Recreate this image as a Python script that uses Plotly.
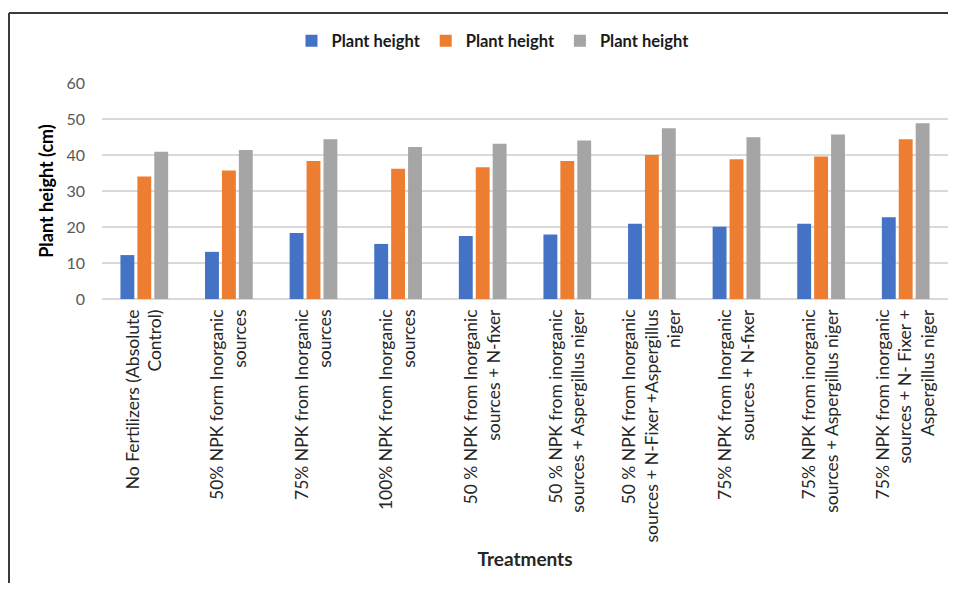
import plotly.graph_objects as go

categories = [
    "No Fertilizers (Absolute<br>Control)",
    "50% NPK form Inorganic<br>sources",
    "75% NPK from Inorganic<br>sources",
    "100% NPK from Inorganic<br>sources",
    "50 % NPK from Inorganic<br>sources + N-fixer",
    "50 % NPK from inorganic<br>sources + Aspergillus niger",
    "50 % NPK from Inorganic<br>sources + N-Fixer +Aspergillus<br>niger",
    "75% NPK from Inorganic<br>sources + N-fixer",
    "75% NPK from inorganic<br>sources + Aspergillus niger",
    "75% NPK from inorganic<br>sources + N- Fixer +<br>Aspergillus niger",
]
series_names = ["Plant height", "Plant height", "Plant height"]
series1 = [12.2, 13.1, 18.3, 15.3, 17.5, 17.9, 20.9, 20.1, 20.9, 22.7]
series2 = [34.0, 35.7, 38.3, 36.2, 36.6, 38.3, 40.0, 38.8, 39.6, 44.4]
series3 = [40.9, 41.4, 44.4, 42.2, 43.1, 44.0, 47.4, 44.9, 45.7, 48.8]
colors = ["#4472C4", "#ED7D31", "#A5A5A5"]
y_ticks = [0, 10, 20, 30, 40, 50, 60]

OFF = 8  # page body margin
W, H = 948, 591 - 2 * OFF
ML, MT = 102 - OFF, 83 - OFF
MR = 8
MB = H - (299 - OFF)
pw = W - ML - MR
ph = H - MT - MB

def px_x(p):  # reference-image pixel -> paper
    return (p - OFF - ML) / pw

def px_y(p):
    return (H - MB - (p - OFF)) / ph

fig = go.Figure()
for name, vals, col in zip(series_names, [series1, series2, series3], colors):
    fig.add_trace(go.Bar(x=categories, y=vals, name=name,
                         marker=dict(color=col, line=dict(width=0))))

fig.update_layout(
    width=W, height=H,
    margin=dict(l=ML, r=MR, t=MT, b=MB, autoexpand=False),
    paper_bgcolor="white", plot_bgcolor="white",
    barmode="group", bargap=0.40, bargroupgap=0.18,
    font=dict(family="Lato, 'Open Sans', sans-serif", color="#404040"),
    showlegend=True,
    legend=dict(orientation="h", x=px_x(493), xanchor="center", y=px_y(41), yanchor="middle",
                font=dict(size=16.5, color="#1a1a1a", family="Lato", weight="bold"),
                itemwidth=30, tracegroupgap=0, bgcolor="rgba(0,0,0,0)"),
    xaxis=dict(
        type="category",
        tickangle=-90, tickfont=dict(size=17.5, color="#262626", family="Lato"),
        showgrid=False, zeroline=False, showline=False, ticks="",
        ticklabelstandoff=6, automargin=False,
        title=dict(text="<b>Treatments</b>", font=dict(size=19, color="#262626", family="Lato"),
                   standoff=11),
    ),
    yaxis=dict(
        range=[0, 60], tickmode="array", tickvals=y_ticks,
        tickfont=dict(size=16, color="#595959", family="Lato"),
        showgrid=True, gridcolor="#D9D9D9", gridwidth=1.5,
        zeroline=True, zerolinecolor="#D9D9D9", zerolinewidth=1.5,
        showline=False, ticks="", ticklabelstandoff=16, automargin=False,
        title=dict(text="<b>Plant height (cm)</b>", font=dict(size=18, color="#000000", family="Lato"),
                   standoff=8),
    ),
    shapes=[
        dict(type="line", xref="paper", yref="paper", x0=px_x(9), x1=px_x(960),
             y0=px_y(13), y1=px_y(13), line=dict(color="#3a3a3a", width=2)),
        dict(type="line", xref="paper", yref="paper", x0=px_x(9), x1=px_x(9),
             y0=px_y(13), y1=px_y(595), line=dict(color="#3a3a3a", width=2)),
    ],
)

fig.write_html("out.html")
